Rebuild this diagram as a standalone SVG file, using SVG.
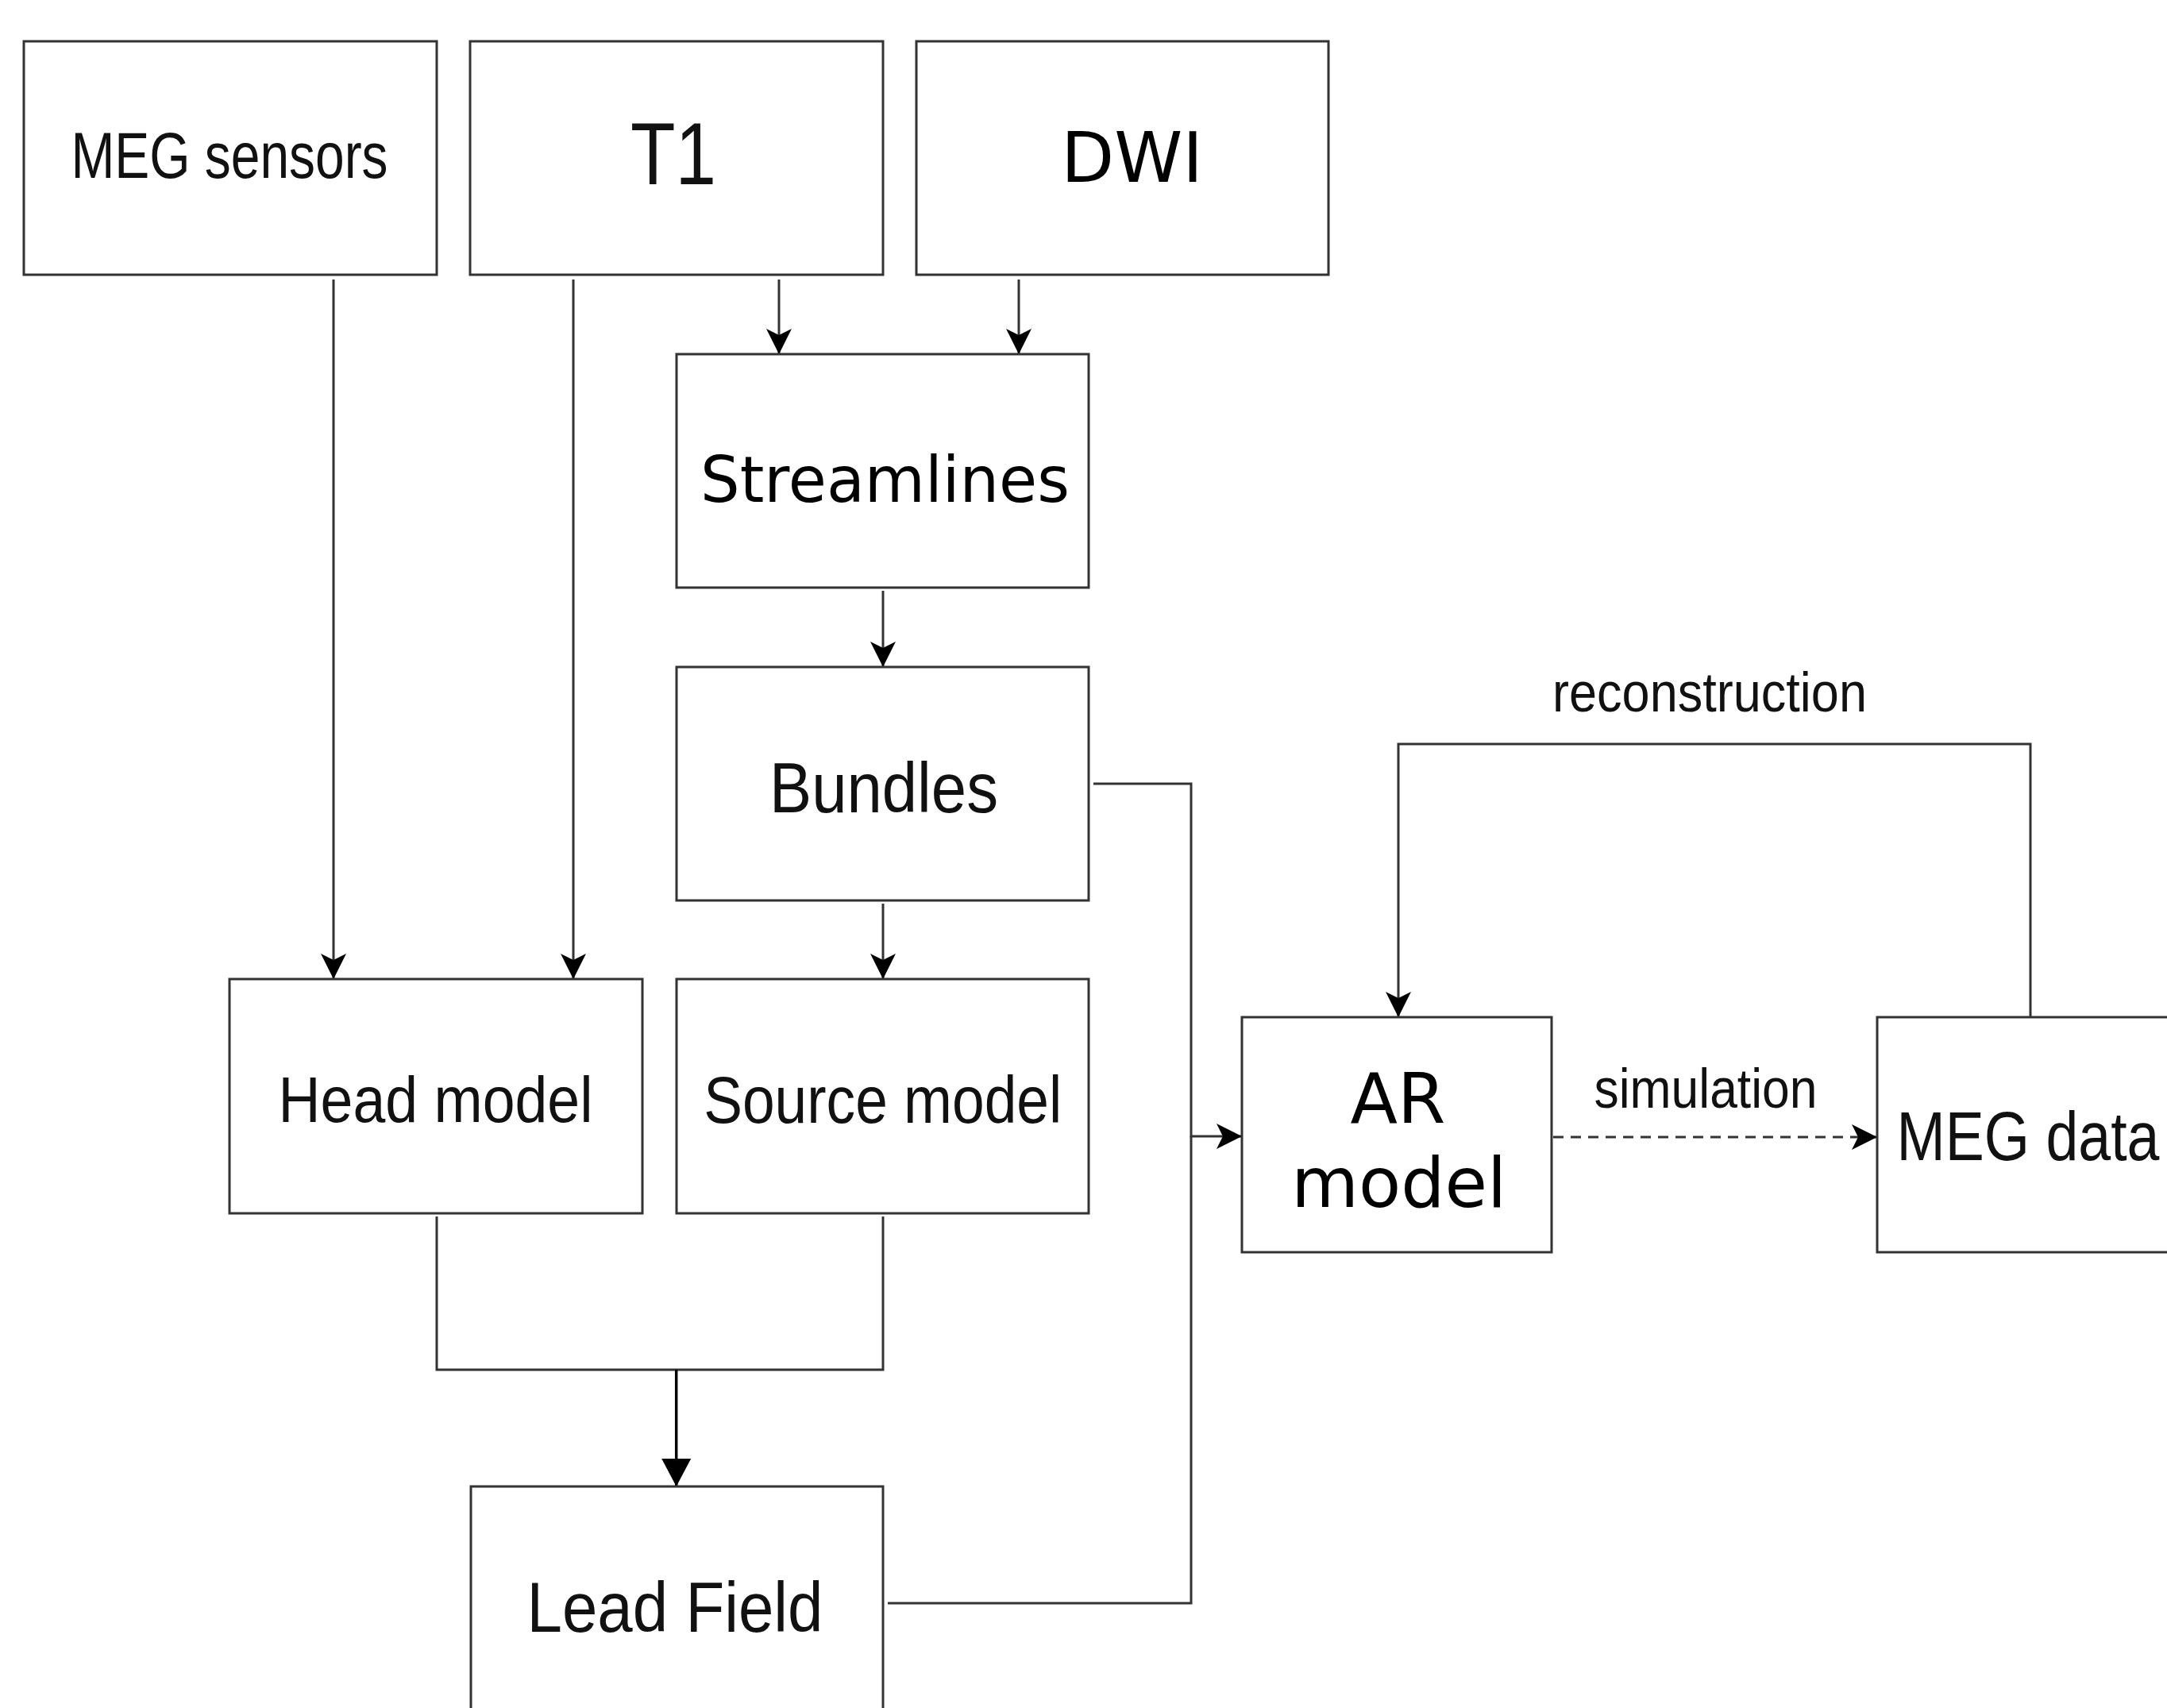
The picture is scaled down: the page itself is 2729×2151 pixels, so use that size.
<svg xmlns="http://www.w3.org/2000/svg" width="2729" height="2151" viewBox="0 0 2729 2151">
<defs>
<style>
.box{fill:#fff;stroke:#333;stroke-width:3}
.ln{fill:none;stroke:#333;stroke-width:3}
.h{font-family:"Liberation Sans",Arial,Helvetica,sans-serif;fill:#111;text-anchor:middle}
.d{font-family:"DejaVu Sans",sans-serif;fill:#000;text-anchor:middle}
</style>
<marker id="arr" viewBox="-34 -18 36 36" refX="0" refY="0" markerWidth="36" markerHeight="36" markerUnits="userSpaceOnUse" orient="auto">
<path d="M0,0 L-32,-16 L-24,0 L-32,16 Z" fill="#000"/>
</marker>
<marker id="blk" viewBox="-37 -20 39 40" refX="0" refY="0" markerWidth="39" markerHeight="40" markerUnits="userSpaceOnUse" orient="auto">
<path d="M0,0 L-35,-18.5 L-35,18.5 Z" fill="#000"/>
</marker>
</defs>
<rect width="2729" height="2151" fill="#fff"/>

<g id="connectors">
<path class="ln" d="M420,352 V1233" marker-end="url(#arr)"/>
<path class="ln" d="M722,352 V1233" marker-end="url(#arr)"/>
<path class="ln" d="M981,352 V446" marker-end="url(#arr)"/>
<path class="ln" d="M1283,352 V446" marker-end="url(#arr)"/>
<path class="ln" d="M1112,744 V840" marker-end="url(#arr)"/>
<path class="ln" d="M1112,1138 V1233" marker-end="url(#arr)"/>
<path class="ln" d="M550,1532 V1725 H1112 V1532"/>
<path d="M851.7,1725 V1872" fill="none" stroke="#000" stroke-width="3.5" marker-end="url(#blk)"/>
<path class="ln" d="M1377,987 H1500 V1431 H1564" marker-end="url(#arr)"/>
<path class="ln" d="M1118,2019 H1500 V1431"/>
<path class="ln" d="M1956,1432 H2364" stroke-dasharray="13 9" marker-end="url(#arr)"/>
<path class="ln" d="M2557,1281 V937 H1761 V1281" marker-end="url(#arr)"/>
<text class="h" x="2153" y="896" font-size="70" textLength="396" lengthAdjust="spacingAndGlyphs">reconstruction</text>
<text class="h" x="2148" y="1395" font-size="70" textLength="281" lengthAdjust="spacingAndGlyphs">simulation</text>
</g>

<g id="meg-sensors">
<rect class="box" x="30" y="52" width="520" height="294"/>
<text class="h" x="289" y="224" font-size="82" textLength="399" lengthAdjust="spacingAndGlyphs">MEG sensors</text>
</g>
<g id="t1">
<rect class="box" x="592" y="52" width="520" height="294"/>
<text class="h" x="848" y="232" font-size="112" textLength="108" lengthAdjust="spacingAndGlyphs">T1</text>
</g>
<g id="dwi">
<rect class="box" x="1154" y="52" width="519" height="294"/>
<text class="d" x="1425.5" y="228.5" font-size="87">DWI</text>
</g>
<g id="streamlines">
<rect class="box" x="852" y="446" width="519" height="294"/>
<text class="d" x="1114.5" y="632" font-size="80" textLength="465" lengthAdjust="spacingAndGlyphs">Streamlines</text>
</g>
<g id="bundles">
<rect class="box" x="852" y="840" width="519" height="294"/>
<text class="h" x="1113" y="1023" font-size="89" textLength="288" lengthAdjust="spacingAndGlyphs">Bundles</text>
</g>
<g id="head-model">
<rect class="box" x="289" y="1233" width="520" height="295"/>
<text class="h" x="548.5" y="1413" font-size="82" textLength="396" lengthAdjust="spacingAndGlyphs">Head model</text>
</g>
<g id="source-model">
<rect class="box" x="852" y="1233" width="519" height="295"/>
<text class="h" x="1111.7" y="1414" font-size="83" textLength="451" lengthAdjust="spacingAndGlyphs">Source model</text>
</g>
<g id="lead-field">
<rect class="box" x="593" y="1872" width="519" height="300"/>
<text class="h" x="850" y="2055" font-size="89" textLength="373" lengthAdjust="spacingAndGlyphs">Lead Field</text>
</g>
<g id="ar-model">
<rect class="box" x="1564" y="1281" width="390" height="296"/>
<text class="d" x="1760.5" y="1414" font-size="87">AR</text>
<text class="d" x="1761.8" y="1520" font-size="87">model</text>
</g>
<g id="meg-data">
<rect class="box" x="2364" y="1281" width="520" height="296"/>
<text class="h" x="2388.5" y="1461" font-size="87" textLength="331" lengthAdjust="spacingAndGlyphs" style="text-anchor:start">MEG data</text>
</g>
</svg>
